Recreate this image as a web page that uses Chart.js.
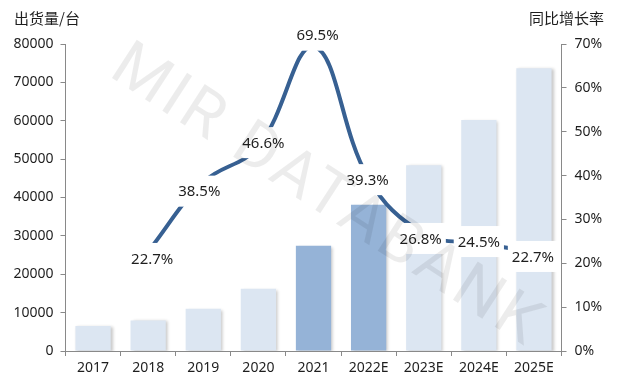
<!DOCTYPE html>
<html>
<head>
<meta charset="utf-8">
<script src="https://cdn.jsdelivr.net/npm/chart.js@4/dist/chart.umd.min.js"></script>
<style>
  html, body { margin: 0; padding: 0; background: #fff; }
  #wrap { width: 626px; height: 387px; }
</style>
</head>
<body>
<div id="wrap"><canvas id="chart" width="626" height="387"></canvas></div>
<script>
// data
const years = ['2017', '2018', '2019', '2020', '2021', '2022E', '2023E', '2024E', '2025E'];
const shipments = [6500, 7950, 11000, 16200, 27400, 38100, 48400, 60200, 73700];
const growthRate = [null, 22.7, 38.5, 46.6, 69.5, 39.3, 26.8, 24.5, 22.7];
const highlightYears = ['2021', '2022E'];
const leftTitle = '出货量/台';
const rightTitle = '同比增长率';
const watermarkText = 'MIR DATABANK';

// where each growth label sits relative to its point (dx, dy)
const labelNudge = [[0, 0], [4, 7], [-4, 9], [5, -4], [4, -11], [-1, 1], [-3, 5], [0, -2], [-1, 5]];

const axisGrey = '#898989';
const textColor = '#1e1e1e';
const numFont = 'Noto Sans';
const cjkFont = '"Noto Sans CJK SC"';

const barColors = years.map(y => highlightYears.includes(y) ? '#95b3d7' : '#dce6f2');

const barShadow = {
    id: 'barShadow',
    beforeDatasetDraw(chart, args) {
        if (args.index !== 0) return;
        const c = chart.ctx;
        c.save();
        c.shadowColor = 'rgba(0,0,0,0.22)';
        c.shadowBlur = 3;
        c.shadowOffsetX = 2;
        c.shadowOffsetY = 1;
    },
    afterDatasetDraw(chart, args) {
        if (args.index === 0) chart.ctx.restore();
    }
};

const growthLabels = {
    id: 'growthLabels',
    afterDatasetsDraw(chart) {
        const c = chart.ctx;
        const meta = chart.getDatasetMeta(1);
        c.save();
        c.font = '15px ' + numFont;
        c.textAlign = 'center';
        c.textBaseline = 'middle';
        meta.data.forEach((pt, i) => {
            const v = growthRate[i];
            if (v === null) return;
            const txt = v.toFixed(1) + '%';
            const x = pt.x + labelNudge[i][0];
            const y = pt.y + labelNudge[i][1];
            const w = c.measureText(txt).width + 8;
            c.fillStyle = '#fff';
            c.fillRect(x - w / 2, y - 15.5, w, 31);
            c.fillStyle = textColor;
            c.fillText(txt, x, y + 1);
        });
        c.restore();
    }
};

const extras = {
    id: 'extras',
    afterDraw(chart) {
        const c = chart.ctx;
        c.save();
        c.fillStyle = textColor;
        c.font = '15px ' + cjkFont;
        c.textBaseline = 'middle';
        c.textAlign = 'left';
        c.fillText(leftTitle, 14, 18);
        c.textAlign = 'right';
        c.fillText(rightTitle, 604, 18);

        // watermark
        c.translate(326, 198);
        c.rotate(33 * Math.PI / 180);
        c.font = '400 64px Roboto';
        c.letterSpacing = '4px';
        c.textAlign = 'center';
        c.textBaseline = 'middle';
        c.fillStyle = 'rgba(0,0,0,0.075)';
        c.fillText(watermarkText, 0, 0);
        c.restore();
    }
};

const ctx = document.getElementById('chart').getContext('2d');
const myChart = new Chart(ctx, {
    type: 'bar',
    data: {
        labels: years,
        datasets: [{
            type: 'bar',
            label: '出货量',
            data: shipments,
            backgroundColor: barColors,
            borderWidth: 0,
            yAxisID: 'y',
            categoryPercentage: 1,
            barPercentage: 0.64,
            order: 2
        }, {
            type: 'line',
            label: '同比增长率',
            data: growthRate,
            borderColor: '#376092',
            borderWidth: 4,
            tension: 0.4,
            pointRadius: 0,
            fill: false,
            yAxisID: 'y1',
            order: 1
        }]
    },
    options: {
        responsive: false,
        animation: false,
        layout: { padding: { top: 44, left: 0, right: 0, bottom: 0 } },
        plugins: {
            legend: { display: false },
            tooltip: { enabled: false }
        },
        scales: {
            x: {
                grid: { display: true, drawOnChartArea: false, tickLength: 5, color: axisGrey, offset: true },
                border: { color: axisGrey },
                ticks: { color: textColor, font: { family: numFont, size: 14 }, padding: 4 },
                afterFit(s) { s.height = 36; }
            },
            y: {
                position: 'left',
                min: 0,
                max: 80000,
                ticks: { stepSize: 10000, color: textColor, font: { family: numFont, size: 14 }, padding: 7,
                    callback: v => String(v) },
                grid: { drawOnChartArea: false, tickLength: 5, color: axisGrey },
                border: { color: axisGrey },
                afterFit(s) { s.width = 65.5; }
            },
            y1: {
                position: 'right',
                min: 0,
                max: 70,
                ticks: { stepSize: 10, color: textColor, font: { family: numFont, size: 14 }, padding: 8,
                    callback: v => v + '%' },
                grid: { drawOnChartArea: false, tickLength: 5, color: axisGrey },
                border: { color: axisGrey },
                afterFit(s) { s.width = 64.5; }
            }
        }
    },
    plugins: [barShadow, growthLabels, extras]
});
</script>
</body>
</html>
